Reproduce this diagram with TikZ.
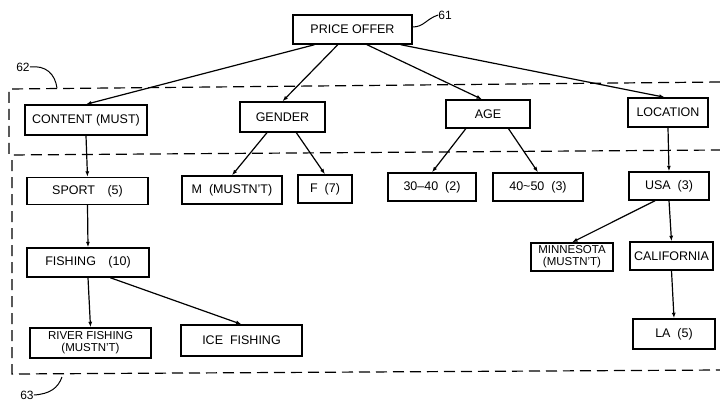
\documentclass[tikz,border=0pt]{standalone}
\usepackage{fontspec}
\setmainfont{Liberation Sans}
\usetikzlibrary{arrows.meta,calc}
\tikzset{
  box/.style={draw, line width=1.4pt, inner sep=0pt, font=\fontsize{12.5}{13}\selectfont, align=center},
  twoline/.style={font=\fontsize{11.5}{12}\selectfont},
  arr/.style={line width=1.2pt, -{Latex[length=5.5pt,width=4pt]}},
  region/.style={line width=1.2pt, dash pattern=on 11pt off 6pt},
  lbl/.style={font=\fontsize{12}{13}\selectfont, inner sep=0pt},
  leader/.style={line width=1pt}
}
\begin{document}
\begin{tikzpicture}[x=1pt,y=-1pt]
\useasboundingbox (0,0) rectangle (720,401);
% regions
\draw[region] (720,82) -- (9,89) -- (9,155) -- (720,150);
\draw[region] (12,160) -- (12,374) -- (720,370);
% nodes
\node[box, minimum width=119pt, minimum height=29pt] (price) at (352.5,29.5) {PRICE OFFER};
\node[box, minimum width=122pt, minimum height=30pt] (content) at (86,120) {CONTENT (MUST)};
\node[box, minimum width=85pt, minimum height=30pt] (gender) at (282.5,117) {GENDER};
\node[box, minimum width=84pt, minimum height=28pt] (age) at (488,114) {AGE};
\node[box, minimum width=80pt, minimum height=29pt] (location) at (668,112.5) {LOCATION};
\node[box, minimum width=121pt, minimum height=27pt] (sport) at (87.5,191) {SPORT\quad(5)};
\node[box, minimum width=100pt, minimum height=28pt] (m) at (232,190) {M\ \ (MUSTN'T)};
\node[box, minimum width=54pt, minimum height=28pt] (f) at (325,189) {F\ \ (7)};
\node[box, minimum width=88pt, minimum height=28pt] (a3040) at (432,187) {30--40\ \ (2)};
\node[box, minimum width=90pt, minimum height=28pt] (a4050) at (538,187) {40\char`\~50\ \ (3)};
\node[box, minimum width=80pt, minimum height=28pt] (usa) at (669,186) {USA\ \ (3)};
\node[box, minimum width=122pt, minimum height=29pt] (fishing) at (88,262.5) {FISHING\quad(10)};
\node[box, twoline, minimum width=121pt, minimum height=30pt] (river) at (90.5,343) {RIVER FISHING\\(MUSTN'T)};
\node[box, minimum width=121pt, minimum height=31pt] (ice) at (241.5,340.5) {ICE\ \ FISHING};
\node[box, twoline, minimum width=82pt, minimum height=28pt] (minn) at (572,257) {MINNESOTA\\(MUSTN'T)};
\node[box, minimum width=83pt, minimum height=28pt] (calif) at (671.5,256) {CALIFORNIA};
\node[box, minimum width=82pt, minimum height=30pt] (la) at (674,334) {LA\ \ (5)};
% labels
\node[lbl] (l61) at (445,15) {61};
\node[lbl] (l62) at (23,67) {62};
\node[lbl] (l63) at (27,395) {63};
\coordinate (c61) at (412.5,27);
\coordinate (c62) at (57,88);
\coordinate (c63) at (62,377);
\draw[leader] (c61) .. controls (424,27) and (426,19) .. (l61.west);
\draw[leader] (l62.east) .. controls (46,65) and (55,74) .. (c62);
\draw[leader] (l63.east) .. controls (50,394) and (58,388) .. (c63);
% connectors
\draw[arr] ($(price.south west)!0.185!(price.south east)$) -- (content.north);
\draw[arr] ($(price.south west)!0.378!(price.south east)$) -- (gender.north);
\draw[arr] ($(price.south west)!0.62!(price.south east)$) -- ($(age.north west)!0.43!(age.north east)$);
\draw[arr] ($(price.south west)!0.9!(price.south east)$) -- ($(location.north west)!0.46!(location.north east)$);
\draw[arr] (content.south) -- (sport.north);
\draw[arr] ($(gender.south west)!0.32!(gender.south east)$) -- (m.north);
\draw[arr] ($(gender.south west)!0.66!(gender.south east)$) -- (f.north);
\draw[arr] ($(age.south west)!0.24!(age.south east)$) -- (a3040.north);
\draw[arr] ($(age.south west)!0.74!(age.south east)$) -- (a4050.north);
\draw[arr] (location.south) -- (usa.north);
\draw[arr] (sport.south) -- (fishing.north);
\draw[arr] (fishing.south) -- (river.north);
\draw[arr] ($(fishing.south west)!0.68!(fishing.south east)$) -- (ice.north);
\draw[arr] ($(usa.south west)!0.33!(usa.south east)$) -- (minn.north);
\draw[arr] (usa.south) -- (calif.north);
\draw[arr] (calif.south) -- (la.north);
\end{tikzpicture}
\end{document}
